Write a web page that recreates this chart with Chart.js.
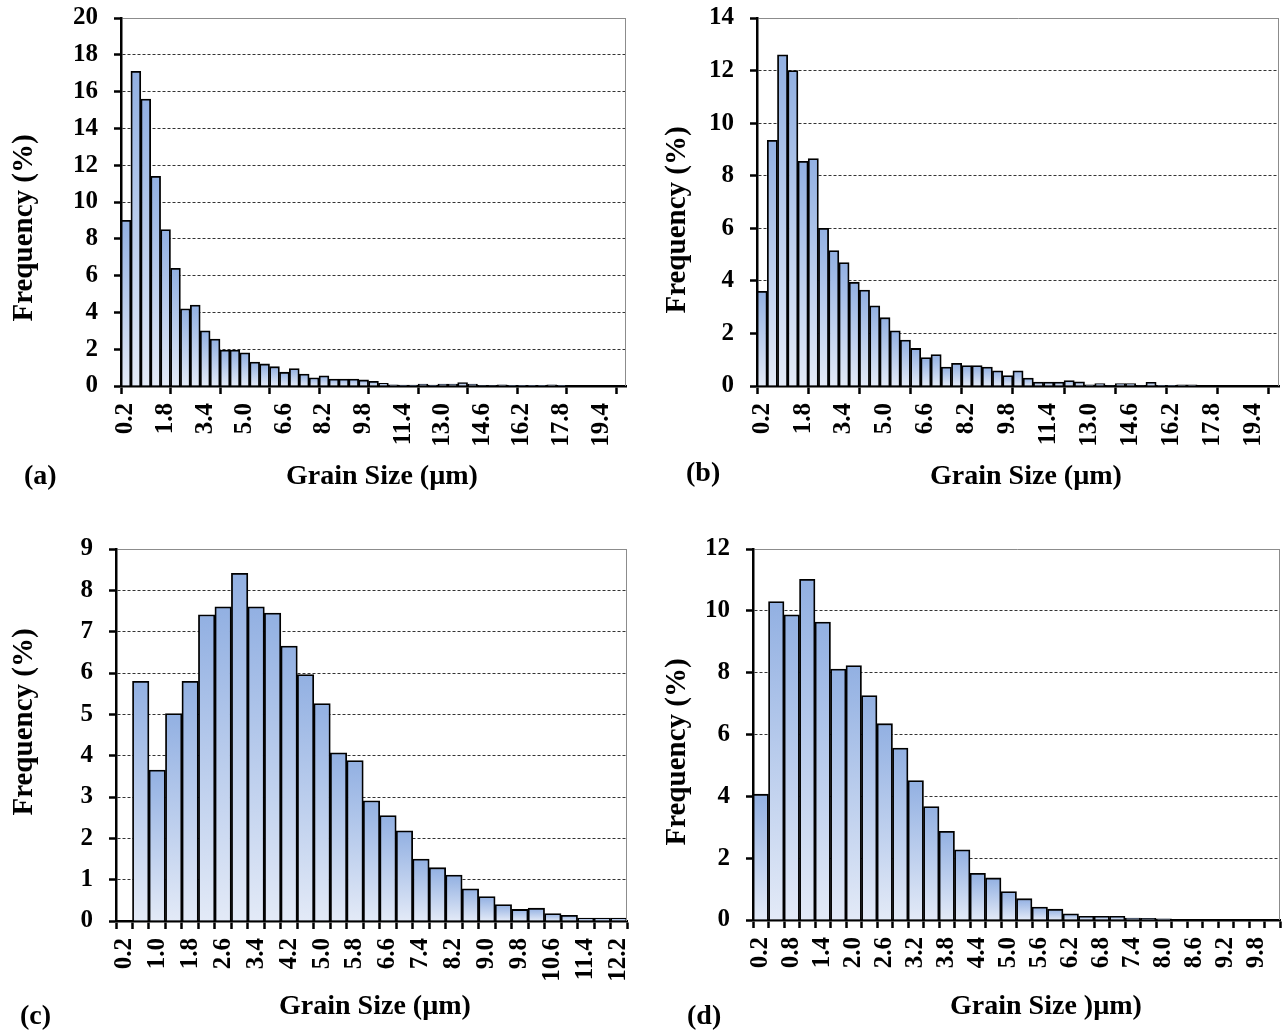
<!DOCTYPE html>
<html>
<head>
<meta charset="utf-8">
<title>Grain size distributions</title>
<script src="https://cdn.jsdelivr.net/npm/chart.js@4.4.1/dist/chart.umd.min.js"></script>
<style>
  body { margin: 0; background: #fff; }
  #figure { position: relative; width: 1282px; height: 1034px; }
  #figure canvas { position: absolute; }
</style>
</head>
<body>
<div id="figure">
  <canvas id="chart-a" width="641" height="517" style="left:0;top:0"></canvas>
  <canvas id="chart-b" width="641" height="517" style="left:641px;top:0"></canvas>
  <canvas id="chart-c" width="641" height="517" style="left:0;top:517px"></canvas>
  <canvas id="chart-d" width="641" height="517" style="left:641px;top:517px"></canvas>
</div>
<script>
// bin centres (µm)
const sizesAB = ["0.2", "0.6", "1.0", "1.4", "1.8", "2.2", "2.6", "3.0", "3.4", "3.8",
  "4.2", "4.6", "5.0", "5.4", "5.8", "6.2", "6.6", "7.0", "7.4", "7.8",
  "8.2", "8.6", "9.0", "9.4", "9.8", "10.2", "10.6", "11.0", "11.4", "11.8",
  "12.2", "12.6", "13.0", "13.4", "13.8", "14.2", "14.6", "15.0", "15.4", "15.8",
  "16.2", "16.6", "17.0", "17.4", "17.8", "18.2", "18.6", "19.0", "19.4", "19.8", "20.2"];
const sizesC = ["0.2", "0.6", "1.0", "1.4", "1.8", "2.2", "2.6", "3.0", "3.4", "3.8",
  "4.2", "4.6", "5.0", "5.4", "5.8", "6.2", "6.6", "7.0", "7.4", "7.8",
  "8.2", "8.6", "9.0", "9.4", "9.8", "10.2", "10.6", "11.0", "11.4", "11.8", "12.2"];
const sizesD = ["0.2", "0.5", "0.8", "1.1", "1.4", "1.7", "2.0", "2.3", "2.6", "2.9",
  "3.2", "3.5", "3.8", "4.1", "4.4", "4.7", "5.0", "5.3", "5.6", "5.9",
  "6.2", "6.5", "6.8", "7.1", "7.4", "7.7", "8.0", "8.3", "8.6", "8.9",
  "9.2", "9.5", "9.8", "10.1"];

// frequency (%) per bin
const freqA = [9.0, 17.1, 15.6, 11.4, 8.5, 6.4, 4.2, 4.4, 3.0, 2.55,
  1.95, 1.95, 1.8, 1.3, 1.2, 1.05, 0.75, 0.95, 0.65, 0.45,
  0.55, 0.38, 0.38, 0.38, 0.33, 0.25, 0.15, 0.06, 0.05, 0.05,
  0.1, 0.05, 0.1, 0.1, 0.18, 0.1, 0.03, 0.03, 0.06, 0.02,
  0.02, 0.02, 0.02, 0.06, 0.02, 0, 0, 0, 0, 0, 0];
const freqB = [3.6, 9.35, 12.6, 12.0, 8.55, 8.65, 6.0, 5.15, 4.7, 3.95,
  3.65, 3.05, 2.6, 2.1, 1.75, 1.43, 1.08, 1.2, 0.72, 0.86,
  0.78, 0.78, 0.72, 0.58, 0.4, 0.58, 0.3, 0.15, 0.15, 0.15,
  0.21, 0.16, 0.04, 0.09, 0.02, 0.09, 0.09, 0.02, 0.14, 0.01,
  0.01, 0.04, 0.04, 0, 0, 0, 0, 0, 0, 0, 0];
const freqC = [0, 5.8, 3.65, 5.02, 5.8, 7.41, 7.6, 8.41, 7.6, 7.45,
  6.65, 5.96, 5.26, 4.07, 3.88, 2.91, 2.55, 2.18, 1.5, 1.29,
  1.11, 0.78, 0.59, 0.4, 0.28, 0.31, 0.18, 0.14, 0.07, 0.07, 0.07];
const freqD = [4.07, 10.3, 9.87, 11.02, 9.64, 8.12, 8.23, 7.26, 6.35, 5.56,
  4.51, 3.67, 2.87, 2.27, 1.51, 1.36, 0.92, 0.69, 0.42, 0.35,
  0.2, 0.12, 0.12, 0.12, 0.06, 0.05, 0.04, 0, 0, 0,
  0, 0, 0, 0];

const TOP_BLUE = "#92b0e2";
const BOTTOM_BLUE = "#e3eaf7";
const SERIF = '"Liberation Serif", "Times New Roman", serif';

// each bar gets its own top-to-bottom fade
function barGradient(context) {
    const chart = context.chart;
    if (!chart.chartArea || context.type !== "data") {
        return TOP_BLUE;
    }
    const yScale = chart.scales.y;
    const top = yScale.getPixelForValue(context.raw);
    const base = yScale.getPixelForValue(0);
    if (base - top < 1) {
        return TOP_BLUE;
    }
    const gradient = chart.ctx.createLinearGradient(0, top, 0, base);
    gradient.addColorStop(0, TOP_BLUE);
    gradient.addColorStop(1, BOTTOM_BLUE);
    return gradient;
}

// axis captions, panel tag and the thin right edge of the plot box
const captionsPlugin = {
    id: "captions",
    afterDraw(chart, args, opts) {
        const { ctx, chartArea } = chart;
        ctx.save();
        ctx.strokeStyle = "#8c8c8c";
        ctx.lineWidth = 1;
        ctx.beginPath();
        ctx.moveTo(chartArea.right - 0.5, chartArea.top);
        ctx.lineTo(chartArea.right - 0.5, chartArea.bottom);
        ctx.stroke();

        ctx.fillStyle = "#000";
        ctx.textBaseline = "alphabetic";
        ctx.font = `bold ${opts.xSize}px ${SERIF}`;
        ctx.textAlign = "center";
        ctx.fillText(opts.xText, opts.xCenter, opts.xBaseline);

        ctx.save();
        ctx.font = `bold ${opts.ySize}px ${SERIF}`;
        ctx.translate(opts.yBaseline, opts.yCenter);
        ctx.rotate(-Math.PI / 2);
        ctx.fillText(opts.yText, 0, 0);
        ctx.restore();

        ctx.font = `bold ${opts.tagSize}px ${SERIF}`;
        ctx.textAlign = "left";
        ctx.fillText(opts.tag, opts.tagX, opts.tagBaseline);
        ctx.restore();
    }
};

function createHistogram(canvasId, sizes, freq, setup) {
    const yMax = setup.yMax;
    return new Chart(document.getElementById(canvasId), {
        type: "bar",
        data: {
            labels: sizes,
            datasets: [{
                data: freq,
                backgroundColor: barGradient,
                borderColor: "#000",
                borderWidth: 1.8,
                borderSkipped: "start",
                categoryPercentage: 1,
                barPercentage: 1
            }]
        },
        options: {
            responsive: false,
            animation: false,
            events: [],
            layout: {
                autoPadding: false,
                padding: { top: setup.top, right: setup.right, left: 0, bottom: 0 }
            },
            plugins: {
                legend: { display: false },
                tooltip: { enabled: false },
                captions: setup.captions
            },
            scales: {
                x: {
                    ticks: {
                        autoSkip: false,
                        maxRotation: 90,
                        minRotation: 90,
                        padding: 9,
                        color: "#000",
                        font: { family: SERIF, size: 25, weight: "bold" },
                        callback: (value, index) => index % setup.labelStep === 0 ? sizes[index] : ""
                    },
                    grid: {
                        drawOnChartArea: false,
                        tickLength: 8,
                        tickWidth: 2.5,
                        tickColor: (c) => {
                            const i = c.index === undefined ? sizes.length : c.index;
                            return i % setup.markStep === 0 ? "#000" : "rgba(0,0,0,0)";
                        }
                    },
                    border: { color: "#000", width: 2.5 },
                    afterFit: (scale) => {
                        scale.height = setup.xHeight;
                        scale.paddingLeft = 0;
                        scale.paddingRight = 0;
                    }
                },
                y: {
                    min: 0,
                    max: yMax,
                    ticks: {
                        stepSize: setup.yStep,
                        padding: 16,
                        color: "#000",
                        font: { family: SERIF, size: 25, weight: "bold" }
                    },
                    grid: {
                        color: (c) => c.tick && c.tick.value === yMax ? "#8c8c8c" : "#333",
                        lineWidth: 1,
                        tickLength: 7,
                        tickWidth: 2.5,
                        tickColor: "#000"
                    },
                    border: {
                        color: "#000",
                        width: 2.5,
                        dash: (c) => c.tick && c.tick.value === yMax ? [] : [3, 2]
                    },
                    afterFit: (scale) => {
                        scale.width = setup.yWidth;
                        scale.paddingTop = 0;
                        scale.paddingBottom = 0;
                    }
                }
            }
        },
        plugins: [captionsPlugin]
    });
}

const gsTitle = "Grain Size (µm)";
const freqTitle = "Frequency (%)";

createHistogram("chart-a", sizesAB, freqA, {
    yMax: 20, yStep: 2, labelStep: 4, markStep: 5,
    top: 18, right: 15, yWidth: 121, xHeight: 131,
    captions: { xText: gsTitle, yText: freqTitle, tag: "(a)", xSize: 28, ySize: 29, tagSize: 28,
        xCenter: 382, xBaseline: 484, yBaseline: 32, yCenter: 228, tagX: 24, tagBaseline: 484 }
});

createHistogram("chart-b", sizesAB, freqB, {
    yMax: 14, yStep: 2, labelStep: 4, markStep: 5,
    top: 18, right: 3, yWidth: 116, xHeight: 131,
    captions: { xText: gsTitle, yText: freqTitle, tag: "(b)", xSize: 28, ySize: 29, tagSize: 28,
        xCenter: 385, xBaseline: 484, yBaseline: 44, yCenter: 220, tagX: 45, tagBaseline: 481 }
});

createHistogram("chart-c", sizesC, freqC, {
    yMax: 9, yStep: 1, labelStep: 2, markStep: 1,
    top: 32, right: 14, yWidth: 116, xHeight: 113,
    captions: { xText: gsTitle, yText: freqTitle, tag: "(c)", xSize: 28, ySize: 29, tagSize: 28,
        xCenter: 375, xBaseline: 497, yBaseline: 32, yCenter: 205, tagX: 20, tagBaseline: 507 }
});

createHistogram("chart-d", sizesD, freqD, {
    yMax: 12, yStep: 2, labelStep: 2, markStep: 1,
    top: 32, right: 2, yWidth: 112, xHeight: 114,
    captions: { xText: "Grain Size )µm)", yText: freqTitle, tag: "(d)", xSize: 28, ySize: 29, tagSize: 28,
        xCenter: 405, xBaseline: 497, yBaseline: 44, yCenter: 235, tagX: 46, tagBaseline: 507 }
});
</script>
</body>
</html>
